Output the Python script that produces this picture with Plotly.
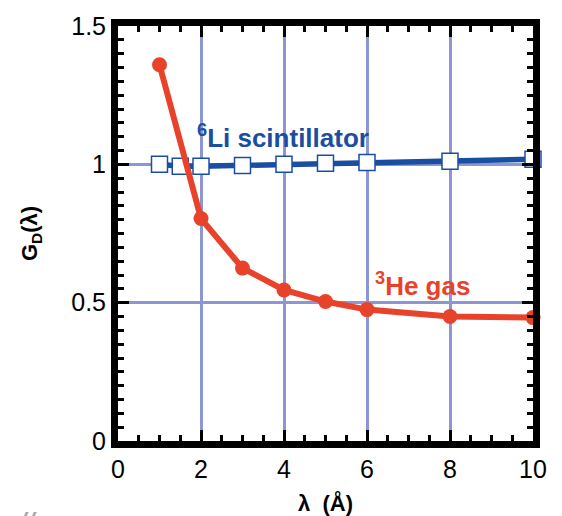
import plotly.graph_objects as go

he_x = [1, 2, 3, 4, 5, 6, 8, 10]
he_y = [1.36, 0.804, 0.625, 0.546, 0.504, 0.475, 0.45, 0.446]
li_x = [1, 1.5, 2, 3, 4, 5, 6, 8, 10]
li_y = [1.0, 0.993, 0.993, 0.996, 1.0, 1.004, 1.007, 1.011, 1.018]

x_ticks = [0, 2, 4, 6, 8, 10]
y_ticks = [0, 0.5, 1, 1.5]
y_tick_text = ["0", "0.5", "1", "1.5"]

RED = "#e8432a"
BLUE = "#1a4ea3"
GRID = "#8d95d2"

fig = go.Figure()
fig.add_trace(go.Scatter(x=li_x, y=li_y, mode="lines+markers",
                         line=dict(color=BLUE, width=5.5),
                         marker=dict(symbol="square", size=16, color="white",
                                     line=dict(color=BLUE, width=1.5)),
                         cliponaxis=False, showlegend=False))
fig.add_trace(go.Scatter(x=he_x, y=he_y, mode="lines+markers",
                         line=dict(color=RED, width=6),
                         marker=dict(symbol="circle", size=15, color=RED),
                         cliponaxis=False, showlegend=False))

font = "Liberation Sans, Arial, sans-serif"
# page has an 8px body margin; figure is sized/margined to compensate
fig.update_layout(
    width=554, height=508,
    margin=dict(l=110, r=29, t=18, b=75),
    plot_bgcolor="white", paper_bgcolor="white",
    font=dict(family=font, size=25, color="black"),
    xaxis=dict(range=[0, 10], tickvals=x_ticks, ticktext=[str(v) for v in x_ticks],
               automargin=False,
               showgrid=True, gridcolor=GRID, gridwidth=3, zeroline=False,
               showline=True, linecolor="black", linewidth=7, mirror="allticks",
               ticks="inside", ticklen=11, tickwidth=2.5, tickcolor="black",
               minor=dict(dtick=0.5, ticks="inside", ticklen=6, tickwidth=2.5, tickcolor="black", showgrid=False),
               title=dict(text="<b>λ  (Å)</b>", font=dict(size=22), standoff=18),
               tickfont=dict(size=25)),
    yaxis=dict(range=[0, 1.5], tickvals=y_ticks, ticktext=y_tick_text,
               automargin=False,
               showgrid=True, gridcolor=GRID, gridwidth=3, zeroline=False,
               showline=True, linecolor="black", linewidth=7, mirror="allticks",
               ticks="inside", ticklen=11, tickwidth=2.5, tickcolor="black",
               minor=dict(dtick=0.05, ticks="inside", ticklen=6, tickwidth=2.5, tickcolor="black", showgrid=False),
               title=dict(text="<b>G<sub>D</sub>(λ)</b>", font=dict(size=22), standoff=30),
               tickfont=dict(size=25)),
)

fig.add_annotation(x=1.85, y=1.035, xref="x", yref="y", xanchor="left", yanchor="bottom",
                   text="<b><sup>6</sup>Li scintillator</b>", showarrow=False,
                   font=dict(size=26, color=BLUE, family=font))
fig.add_annotation(x=6.15, y=0.5, xref="x", yref="y", xanchor="left", yanchor="bottom",
                   text="<b><sup>3</sup>He gas</b>", showarrow=False,
                   font=dict(size=26, color=RED, family=font))
fig.add_annotation(x=-0.235, y=-0.142, xref="paper", yref="paper", xanchor="left", yanchor="top",
                   text="“", showarrow=False,
                   font=dict(size=50, color="#a8a8a8", family=font))

fig.write_html("out.html")
